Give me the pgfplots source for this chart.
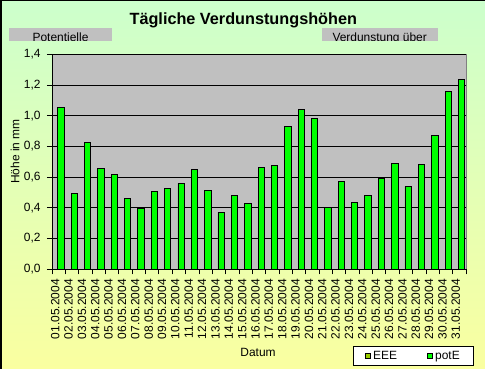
\documentclass[border=0pt]{standalone}
\usepackage{fontspec}
\setmainfont{Liberation Sans}
\usepackage{pgfplots}
\pgfplotsset{compat=1.18}
\definecolor{plotgrey}{RGB}{192,192,192}
\definecolor{bargreen}{RGB}{0,255,0}
\definecolor{eeeolive}{RGB}{153,204,0}
\definecolor{bgtop}{RGB}{204,255,204}
\definecolor{bgbot}{RGB}{250,255,160}
\begin{document}
\begin{tikzpicture}
\path[use as bounding box] (0,0) rectangle (485bp,369bp);
\shade[top color=bgtop, bottom color=bgbot] (0,0) rectangle (485bp,369bp);
\fill[black] (0,0) rectangle (1.5bp,369bp);
\fill[black] (0,368bp) rectangle (485bp,369bp);
\node[font=\fontsize{16.3}{19}\selectfont\bfseries, anchor=base, inner sep=0] at (243.3bp,344bp) {Tägliche Verdunstungshöhen};
\fill[plotgrey] (9bp,328.3bp) rectangle (112bp,340.7bp);
\fill[plotgrey] (321.7bp,328.3bp) rectangle (437.7bp,340.7bp);
\begin{scope}
\clip (9bp,328.3bp) rectangle (112bp,340.7bp);
\node[font=\fontsize{12}{14}\selectfont, anchor=base, inner sep=0] at (60.5bp,327.3bp) {Potentielle};
\end{scope}
\begin{scope}
\clip (321.7bp,328.3bp) rectangle (437.7bp,340.7bp);
\node[font=\fontsize{12}{14}\selectfont, anchor=base, inner sep=0] at (379.7bp,327.3bp) {Verdunstung über};
\end{scope}
\begin{axis}[
  at={(52bp,99.7bp)}, anchor=south west,
  scale only axis, width=414bp, height=215bp,
  xmin=0.5, xmax=31.5, ymin=0, ymax=1.4,
  axis x line*=bottom, axis y line*=left,
  axis line style={-, black, line width=0.8bp},
  axis background/.style={fill=plotgrey, draw=gray, line width=0.8bp},
  ybar, bar width=6.3bp,
  xtick={0.5,1.5,...,31.5},
  x tick label as interval,
  xticklabels={01.05.2004,02.05.2004,03.05.2004,04.05.2004,05.05.2004,06.05.2004,07.05.2004,08.05.2004,09.05.2004,10.05.2004,11.05.2004,12.05.2004,13.05.2004,14.05.2004,15.05.2004,16.05.2004,17.05.2004,18.05.2004,19.05.2004,20.05.2004,21.05.2004,22.05.2004,23.05.2004,24.05.2004,25.05.2004,26.05.2004,27.05.2004,28.05.2004,29.05.2004,30.05.2004,31.05.2004},
  ytick={0,0.2,...,1.4},
  tick align=outside,
  major tick length=5bp,
  tick style={black, line width=0.8bp},
  ymajorgrids, grid style={black, line width=0.8bp},
  yticklabel style={xshift=-3bp, /pgf/number format/.cd, fixed, fixed zerofill, precision=1, use comma, assume math mode=true},
  tick label style={font=\fontsize{12}{14}\selectfont},
  x tick label style={xshift=-3.5bp, yshift=-1.5bp, rotate=90, anchor=east},
  ylabel={Höhe in mm},
  ylabel style={at={(rel axis cs:-0.0894,0.548)}, anchor=center, font=\fontsize{12}{14}\selectfont},
  xlabel={Datum},
  xlabel style={at={(rel axis cs:0.4976,-0.389)}, anchor=center, font=\fontsize{12}{14}\selectfont},
  legend image code/.code={\draw[#1] (0bp,-2.7bp) rectangle (5.4bp,2.7bp);},
  legend style={at={(rel axis cs:0.7263,-0.4498)}, anchor=south west, draw=black, fill=white, line width=0.8bp,
    legend columns=2, font=\fontsize{12}{14}\selectfont,
    /tikz/every even column/.append style={column sep=28bp}, inner xsep=12bp, inner ysep=3bp},
  legend cell align=left,
]
\addplot[fill=eeeolive, draw=black, line width=0.6bp, bar shift=-4.3bp] coordinates {
(1,0) (2,0) (3,0) (4,0) (5,0) (6,0) (7,0) (8,0) (9,0) (10,0) (11,0) (12,0) (13,0) (14,0) (15,0) (16,0)
(17,0) (18,0) (19,0) (20,0) (21,0) (22,0) (23,0) (24,0) (25,0) (26,0) (27,0) (28,0) (29,0) (30,0) (31,0)};
\addlegendentry{EEE}
\addplot[fill=bargreen, draw=black, line width=0.8bp, bar shift=2.2bp] coordinates {
(1,1.055) (2,0.495) (3,0.827) (4,0.658) (5,0.618) (6,0.462) (7,0.397) (8,0.508) (9,0.527) (10,0.560)
(11,0.651) (12,0.514) (13,0.371) (14,0.482) (15,0.430) (16,0.664) (17,0.677) (18,0.931) (19,1.042) (20,0.983)
(21,0.404) (22,0.573) (23,0.436) (24,0.482) (25,0.592) (26,0.690) (27,0.540) (28,0.684) (29,0.872) (30,1.159) (31,1.237)};
\addlegendentry{potE}
\end{axis}
\end{tikzpicture}
\end{document}
